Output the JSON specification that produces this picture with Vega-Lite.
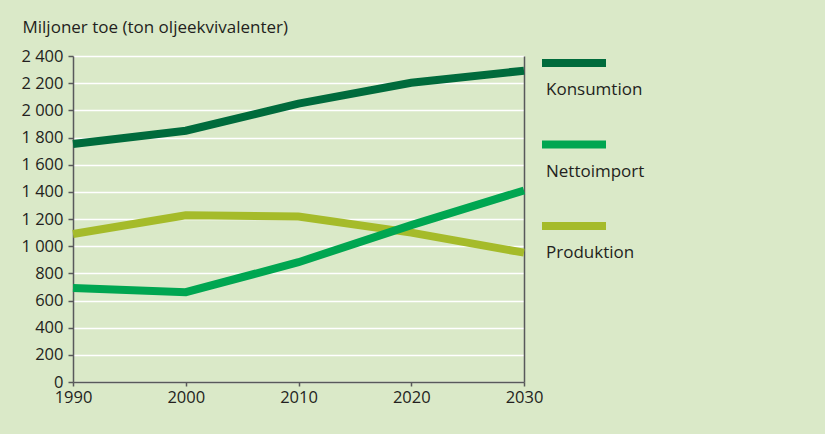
{
  "$schema": "https://vega.github.io/schema/vega-lite/v6.json",
  "width": 451,
  "height": 326,
  "autosize": {"type": "none"},
  "padding": {"left": 73, "top": 56, "right": 301, "bottom": 52},
  "background": "#dae9c8",
  "config": {
    "font": "Open Sans",
    "view": {"stroke": null},
    "axis": {"labelFont": "Open Sans", "labelFontSize": 16.5, "labelColor": "#231f20", "domainColor": "#58595b", "domainWidth": 1.5, "tickColor": "#58595b", "tickWidth": 1.5}
  },
  "data": {
    "values": [
      {"year": 1990, "series": "Produktion", "value": 1090},
      {"year": 2000, "series": "Produktion", "value": 1228},
      {"year": 2010, "series": "Produktion", "value": 1218},
      {"year": 2020, "series": "Produktion", "value": 1100},
      {"year": 2030, "series": "Produktion", "value": 952},
      {"year": 1990, "series": "Konsumtion", "value": 1752},
      {"year": 2000, "series": "Konsumtion", "value": 1850},
      {"year": 2010, "series": "Konsumtion", "value": 2049},
      {"year": 2020, "series": "Konsumtion", "value": 2203},
      {"year": 2030, "series": "Konsumtion", "value": 2292},
      {"year": 1990, "series": "Nettoimport", "value": 692},
      {"year": 2000, "series": "Nettoimport", "value": 661},
      {"year": 2010, "series": "Nettoimport", "value": 882},
      {"year": 2020, "series": "Nettoimport", "value": 1155},
      {"year": 2030, "series": "Nettoimport", "value": 1410}
    ]
  },
  "layer": [
    {
      "mark": {"type": "line", "strokeWidth": 8, "strokeCap": "butt", "strokeJoin": "miter"},
      "encoding": {
        "x": {"field": "year", "type": "quantitative", "scale": {"domain": [1990, 2030], "nice": false, "zero": false},
          "axis": {"title": null, "values": [1990, 2000, 2010, 2020, 2030], "format": "d", "grid": false, "tickSize": 4, "labelPadding": 3, "labelFlush": false}},
        "y": {"field": "value", "type": "quantitative", "scale": {"domain": [0, 2400], "nice": false},
          "axis": {"title": "Miljoner toe (ton oljeekvivalenter)", "titleAngle": 0, "titleAlign": "left", "titleBaseline": "alphabetic", "titleX": -51, "titleY": -24, "titleFont": "Open Sans", "titleFontSize": 17, "titleFontWeight": "normal", "titleColor": "#231f20",
            "values": [0, 200, 400, 600, 800, 1000, 1200, 1400, 1600, 1800, 2000, 2200, 2400],
            "labelExpr": "replace(format(datum.value, ','), ',', ' ')",
            "grid": true, "gridColor": "#ffffff", "gridWidth": 1.5, "gridOpacity": 1, "tickSize": 5, "labelPadding": 5}},
        "color": {"field": "series", "type": "nominal",
          "scale": {"domain": ["Konsumtion", "Nettoimport", "Produktion"], "range": ["#006b3c", "#00a651", "#a5bb2a"]},
          "legend": {"title": null, "orient": "none", "legendX": 465, "legendY": -29, "direction": "vertical",
            "symbolType": "stroke", "symbolSize": 4096, "symbolStrokeWidth": 8, "symbolOpacity": 1,
            "labelExpr": "['', datum.label]", "labelBaseline": "top", "labelLineHeight": 18, "labelOffset": -64,
            "labelFont": "Open Sans", "labelFontSize": 17, "labelColor": "#231f20", "rowPadding": 10.5, "labelLimit": 300}},
        "order": {"field": "year", "type": "quantitative"}
      }
    },
    {
      "mark": {"type": "line", "opacity": 0},
      "encoding": {
        "x": {"field": "year", "type": "quantitative"},
        "y": {"field": "value", "type": "quantitative", "axis": {"orient": "right", "labels": false, "ticks": false, "grid": false, "title": null, "domain": true}},
        "detail": {"field": "series"}
      }
    }
  ],
  "resolve": {"axis": {"y": "independent"}}
}
